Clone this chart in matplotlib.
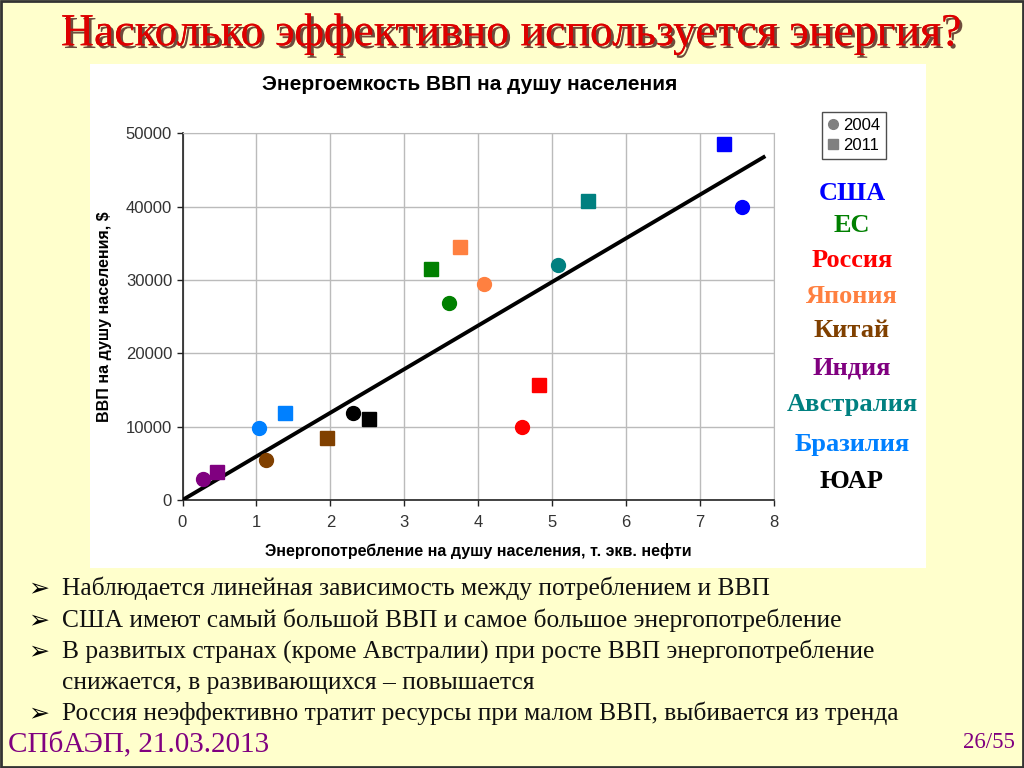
import matplotlib
matplotlib.use("Agg")
import matplotlib.pyplot as plt
from matplotlib.lines import Line2D
from matplotlib.patches import Rectangle
import matplotlib.patheffects as pe

# ---- data ----
countries = ["США", "ЕС", "Россия", "Япония", "Китай", "Индия", "Австралия", "Бразилия", "ЮАР"]
colors = ["#0000FF", "#008000", "#FF0000", "#FF8040", "#804000", "#800080", "#008080", "#0080FF", "#000000"]
energy_2004 = [7.57, 3.60, 4.59, 4.08, 1.13, 0.28, 5.08, 1.04, 2.31]
gdp_2004 = [39900, 26900, 9900, 29500, 5500, 2900, 32100, 9800, 11900]
energy_2011 = [7.32, 3.36, 4.82, 3.75, 1.96, 0.46, 5.49, 1.38, 2.52]
gdp_2011 = [48600, 31500, 15700, 34500, 8400, 3800, 40800, 11900, 11100]
trend_x = [0.0, 7.86]
trend_y = [0, 46750]
x_ticks = [0, 1, 2, 3, 4, 5, 6, 7, 8]
y_ticks = [0, 10000, 20000, 30000, 40000, 50000]
legend_labels = ["2004", "2011"]

title = "Насколько эффективно используется энергия?"
chart_title = "Энергоемкость ВВП на душу населения"
xlabel = "Энергопотребление на душу населения, т. экв. нефти"
ylabel = "ВВП на душу населения, $"
bullets = [
    ("➢", "Наблюдается линейная зависимость между потреблением и ВВП"),
    ("➢", "США имеют самый большой ВВП и самое большое энергопотребление"),
    ("➢", "В развитых странах (кроме Австралии) при росте ВВП энергопотребление"),
    ("", "снижается, в развивающихся – повышается"),
    ("➢", "Россия неэффективно тратит ресурсы при малом ВВП, выбивается из тренда"),
]
footer_left = "СПбАЭП, 21.03.2013"
footer_right = "26/55"

W, H = 1024, 768
fig = plt.figure(figsize=(W / 100, H / 100), dpi=100)
fig.patch.set_facecolor("#FFFFCC")

def fx(px):
    return px / W

def fy(py):
    return 1 - py / H

# slide border
fig.patches.append(Rectangle((0.001, 0.001), 0.998, 0.998, transform=fig.transFigure,
                             fill=False, edgecolor="#333333", linewidth=2, zorder=-10))
# white chart area
fig.patches.append(Rectangle((fx(90), fy(568)), fx(926) - fx(90), fy(64) - fy(568),
                             transform=fig.transFigure, facecolor="white", edgecolor="none",
                             zorder=-10))

serif = ["Liberation Serif", "DejaVu Serif"]
sans = ["Liberation Sans", "DejaVu Sans"]

# slide title
fig.text(fx(512), fy(34), title, ha="center", va="center", fontsize=33, color="#DD0000",
         family=serif,
         path_effects=[pe.withSimplePatchShadow(offset=(2, -2), shadow_rgbFace="#300000", alpha=0.7),
                       pe.Normal()])

# axes
ax = fig.add_axes([fx(182.5), fy(500), fx(774) - fx(182.5), fy(133.3) - fy(500)])
ax.set_facecolor("white")
ax.set_xlim(0, 8)
ax.set_ylim(0, 50000)
ax.set_xticks(x_ticks)
ax.set_yticks(y_ticks)
ax.grid(True, color="#BBBBBB", linewidth=1)
ax.set_axisbelow(True)
for s in ["top", "right"]:
    ax.spines[s].set_color("#BBBBBB")
for s in ["left", "bottom"]:
    ax.spines[s].set_color("#222222")
    ax.spines[s].set_linewidth(1.2)
ax.tick_params(axis="both", direction="out", length=4, width=1, colors="#222222",
               labelsize=12, labelcolor="#333333")
for lab in ax.get_xticklabels() + ax.get_yticklabels():
    lab.set_family(sans)
ax.tick_params(axis="x", pad=7)

ax.plot(trend_x, trend_y, color="black", linewidth=2.8, zorder=3)
for i in range(len(countries)):
    ax.plot(energy_2004[i], gdp_2004[i], marker="o", markersize=10, color=colors[i],
            linestyle="none", zorder=4)
    ax.plot(energy_2011[i], gdp_2011[i], marker="s", markersize=10, color=colors[i],
            linestyle="none", zorder=4)

ax.set_xlabel(xlabel, fontsize=11.5, fontweight="bold", family=sans, labelpad=9)
ax.set_ylabel(ylabel, fontsize=11.5, fontweight="bold", family=sans, labelpad=10)
fig.text(fx(470), fy(84), chart_title, ha="center", va="center", fontsize=15,
         fontweight="bold", family=sans)

# legend
handles = [Line2D([], [], marker="o", color="#808080", linestyle="none", markersize=7),
           Line2D([], [], marker="s", color="#808080", linestyle="none", markersize=7)]
leg = fig.legend(handles, legend_labels, loc="upper left",
                 bbox_to_anchor=(fx(822), fy(112)), frameon=True, fancybox=False,
                 prop={"family": sans, "size": 12}, handlelength=0.6, handletextpad=0.3,
                 borderpad=0.35, labelspacing=0.3, borderaxespad=0)
leg.get_frame().set_edgecolor("#222222")
leg.get_frame().set_linewidth(1)

# country labels
label_y = [193, 225, 260, 296, 331, 368, 405, 444, 482]
for name, c, yy in zip(countries, colors, label_y):
    fig.text(fx(852), fy(yy), name, ha="center", va="center", fontsize=19,
             fontweight="bold", color=c, family=serif)

# bullets
line_y = [588, 620, 651, 683, 713]
for (b, t), yy in zip(bullets, line_y):
    if b:
        fig.text(fx(28), fy(yy), b, ha="left", va="center", fontsize=18, color="black",
                 family=["DejaVu Sans"], fontweight="bold")
    fig.text(fx(62), fy(yy), t, ha="left", va="center", fontsize=18.4, color="#111111",
             family=serif)

fig.text(fx(8), fy(745), footer_left, ha="left", va="center", fontsize=21, color="#800080",
         family=serif)
fig.text(fx(1015), fy(743), footer_right, ha="right", va="center", fontsize=16.5, color="#800080",
         family=serif)

fig.savefig("out.png", dpi=100, facecolor=fig.get_facecolor())
